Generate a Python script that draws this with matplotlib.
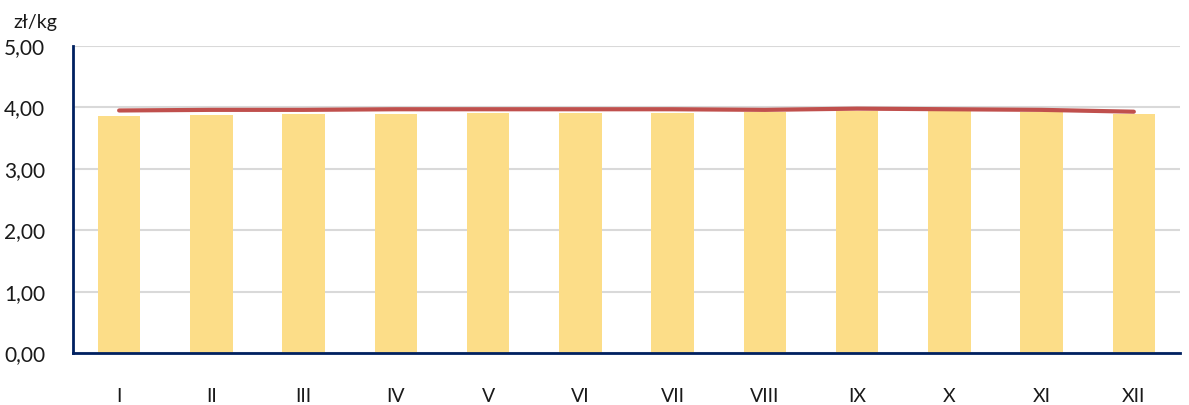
import matplotlib.pyplot as plt
import numpy as np

months = ['I', 'II', 'III', 'IV', 'V', 'VI', 'VII', 'VIII', 'IX', 'X', 'XI', 'XII']
bar_values = [3.86, 3.88, 3.89, 3.89, 3.91, 3.91, 3.91, 3.93, 3.94, 3.94, 3.93, 3.89]
line_values = [3.95, 3.96, 3.96, 3.97, 3.97, 3.97, 3.97, 3.96, 3.98, 3.97, 3.96, 3.93]
y_ticks = [0, 1, 2, 3, 4, 5]
y_labels = ['0,00', '1,00', '2,00', '3,00', '4,00', '5,00']

plt.rcParams['font.family'] = ['Lato', 'DejaVu Sans']

fig = plt.figure(figsize=(11.89, 4.05), dpi=100)
ax = fig.add_axes([0.0614, 0.1284, 0.931, 0.758])

x = np.arange(len(months))
ax.bar(x, bar_values, width=0.46, color='#FCDD88', zorder=2)
ax.plot(x, line_values, color='#C0504D', linewidth=3, solid_capstyle='round', zorder=3)

ax.set_xlim(-0.5, 11.5)
ax.set_ylim(0, 5)
ax.set_xticks(x)
ax.set_xticklabels(months, fontsize=14)
ax.set_yticks(y_ticks)
ax.set_yticklabels(y_labels, fontsize=15)
ax.tick_params(axis='x', length=0, pad=25, colors='#1a1a1a')
ax.tick_params(axis='y', length=0, pad=20, colors='#1a1a1a')

ax.yaxis.grid(True, color='#D9D9D9', linewidth=1.5, zorder=0)
ax.set_axisbelow(True)
for side in ['top', 'right']:
    ax.spines[side].set_visible(False)
for side in ['left', 'bottom']:
    ax.spines[side].set_color('#002060')
    ax.spines[side].set_linewidth(2)

fig.text(0.011, 0.93, 'zł/kg', fontsize=14, color='#1a1a1a')

plt.savefig('out.png', dpi=100)
